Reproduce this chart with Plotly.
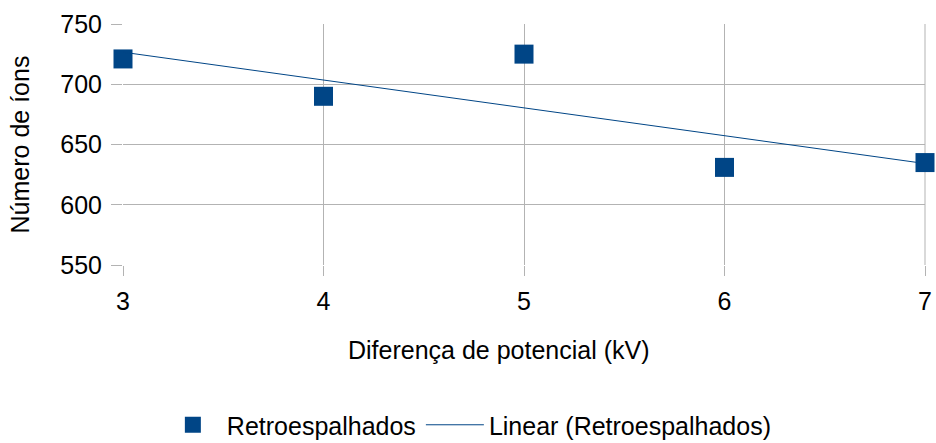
import numpy as np
import plotly.graph_objects as go

# Diferença de potencial (kV) vs número de íons retroespalhados
voltage_kv = [3, 4, 5, 6, 7]
ion_counts = [721, 690, 725, 631, 635]
y_ticks = [550, 600, 650, 700, 750]

blue = '#004586'
grid = '#b3b3b3'
font_name = 'Liberation Sans, Arial, sans-serif'

# linear trendline, like the spreadsheet one
slope, intercept = np.polyfit(voltage_kv, ion_counts, 1)
fit_x = [voltage_kv[0], voltage_kv[-1]]
fit_y = [slope * x + intercept for x in fit_x]

fig = go.Figure()
fig.add_trace(go.Scatter(x=voltage_kv, y=ion_counts, mode='markers',
                         name='Retroespalhados', cliponaxis=False,
                         marker=dict(symbol='square', size=19, color=blue)))
fig.add_trace(go.Scatter(x=fit_x, y=fit_y, mode='lines',
                         name='Linear (Retroespalhados)', cliponaxis=False,
                         line=dict(color=blue, width=1)))

fig.update_layout(
    width=936, height=443,
    margin=dict(l=123, r=11, t=24, b=178, autoexpand=False),
    paper_bgcolor='white', plot_bgcolor='white',
    font=dict(family=font_name, size=25, color='black'),
    showlegend=True,
    legend=dict(orientation='h', x=0.43, xanchor='center', y=-0.664, yanchor='middle',
                font=dict(size=25), itemwidth=58, tracegroupgap=0),
)
fig.update_xaxes(range=[3, 7], dtick=1, showgrid=True, gridcolor=grid, gridwidth=1,
                 zeroline=False, showline=False, automargin=False,
                 ticks='outside', ticklen=10, tickcolor=grid, ticklabelstandoff=4,
                 tickfont=dict(size=25))
fig.update_yaxes(range=[550, 750], tickvals=y_ticks, showgrid=True, gridcolor=grid, gridwidth=1,
                 zeroline=False, showline=False, automargin=False,
                 ticks='outside', ticklen=11, tickcolor=grid, ticklabelstandoff=4,
                 tickfont=dict(size=25),
                 title=dict(text='Número de íons', font=dict(size=25), standoff=23))

# x title sits a bit left of the plot centre in the original, so place it by hand
fig.add_annotation(text='Diferença de potencial (kV)', xref='paper', yref='paper',
                   x=0.469, y=-0.353, xanchor='center', yanchor='middle',
                   showarrow=False, font=dict(size=25))

# right border of the plot area at x=7 is a grid line, top one at 750 too
fig.add_shape(type='line', xref='paper', yref='paper', x0=1, x1=1, y0=0, y1=1,
              line=dict(color=grid, width=1), layer='below')

# page has a default 8px body margin, drop it so the chart sits at 0,0
fig.write_html("out.html", config={'displayModeBar': False},
               post_script="document.body.style.margin='0';")
